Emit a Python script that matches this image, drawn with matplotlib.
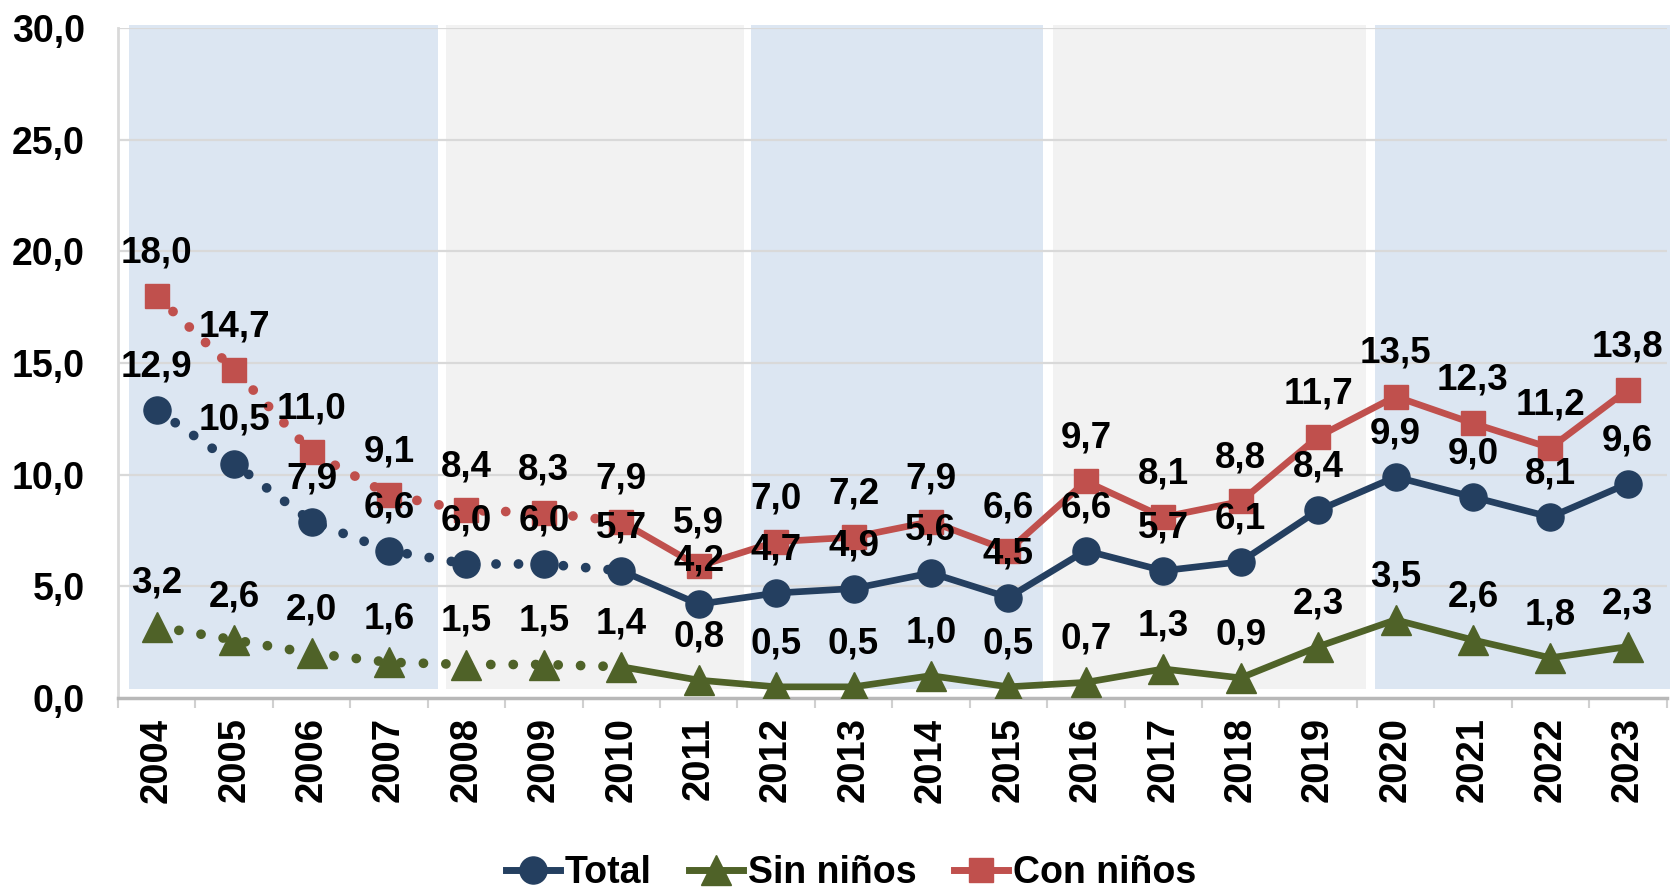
import matplotlib
matplotlib.use("Agg")
import matplotlib.pyplot as plt
from matplotlib.lines import Line2D
from matplotlib.ticker import FixedLocator

plt.rcParams['font.family'] = ['Liberation Sans', 'DejaVu Sans']
plt.rcParams['font.weight'] = 'bold'

years = [str(y) for y in range(2004, 2024)]
total = [12.9, 10.5, 7.9, 6.6, 6.0, 6.0, 5.7, 4.2, 4.7, 4.9, 5.6, 4.5, 6.6, 5.7, 6.1, 8.4, 9.9, 9.0, 8.1, 9.6]
sin_ninos = [3.2, 2.6, 2.0, 1.6, 1.5, 1.5, 1.4, 0.8, 0.5, 0.5, 1.0, 0.5, 0.7, 1.3, 0.9, 2.3, 3.5, 2.6, 1.8, 2.3]
con_ninos = [18.0, 14.7, 11.0, 9.1, 8.4, 8.3, 7.9, 5.9, 7.0, 7.2, 7.9, 6.6, 9.7, 8.1, 8.8, 11.7, 13.5, 12.3, 11.2, 13.8]
series_names = ["Total", "Sin niños", "Con niños"]
yticks = [0, 5, 10, 15, 20, 25, 30]
dotted_until = 6  # index of 2010: dotted before, solid after

colors = ["#243F60", "#4F6228", "#C0504D"]
markers = ["o", "^", "s"]
msizes = [19.5, 22, 17.5]

fig = plt.figure(figsize=(16.75, 8.94), dpi=100)
ax = fig.add_axes([118 / 1675, (894 - 698) / 894, (1666.5 - 118) / 1675, 670 / 894])

n = len(years)
x = list(range(n))
ax.set_xlim(-0.5, n - 0.5)
ax.set_ylim(0, 30)

# background bands
bands = [(-0.36, 3.63, "#DCE6F2"), (3.74, 7.58, "#F2F2F2"), (7.68, 11.45, "#DCE6F2"),
         (11.57, 15.62, "#F2F2F2"), (15.73, 19.55, "#DCE6F2")]
for a, b, c in bands:
    ax.axvspan(a, b, ymin=0.013, ymax=1.0045, color=c, zorder=0, clip_on=False, lw=0)

for yv in yticks[1:]:
    ax.axhline(yv, color="#D9D9D9", lw=1.6, zorder=1)

for vals, col, mk, ms in zip([total, sin_ninos, con_ninos], colors, markers, msizes):
    ax.plot(x[:dotted_until + 1], vals[:dotted_until + 1], color=col, lw=7,
            linestyle=(0, (0.01, 2.3)), dash_capstyle='round', zorder=3)
    ax.plot(x[dotted_until:], vals[dotted_until:], color=col, lw=4.8,
            solid_joinstyle='round', zorder=3)
    ax.plot(x, vals, linestyle='none', marker=mk, markersize=ms, color=col, zorder=4)
    for xi, v in zip(x, vals):
        ax.annotate(f"{v:.1f}".replace(".", ","), (xi, v), xytext=(0, 31),
                    textcoords="offset points", ha="center", va="center",
                    fontsize=26.5, fontweight="bold", color="black", zorder=6)

ax.set_yticks(yticks)
ax.set_yticklabels([f"{v:.1f}".replace(".", ",") for v in yticks], fontsize=27, fontweight="bold")
ax.tick_params(axis="y", length=0, pad=24)
ax.set_xticks(x)
ax.set_xticklabels(years, rotation=90, fontsize=27.5, fontweight="bold")
ax.tick_params(axis="x", which="major", length=0, pad=14)
ax.xaxis.set_minor_locator(FixedLocator([i - 0.5 for i in range(n + 1)]))
ax.tick_params(axis="x", which="minor", length=7, width=1.5, color="#D0D0D0")

for s in ["top", "right"]:
    ax.spines[s].set_visible(False)
ax.spines["bottom"].set_color("#B8B8B8")
ax.spines["bottom"].set_linewidth(2.5)
ax.spines["left"].set_color("#D9D9D9")
ax.spines["left"].set_linewidth(2)
ax.set_facecolor("white")

handles = [Line2D([0], [0], color=c, lw=5, marker=m, markersize=ms)
           for c, m, ms in zip(colors, markers, msizes)]
fig.legend(handles, series_names, loc="center", bbox_to_anchor=(0.508, 21 / 894), ncol=3,
           frameon=False, prop={"size": 27, "weight": "bold"}, handlelength=1.45,
           handletextpad=0.12, columnspacing=1.0, borderaxespad=0)

fig.savefig("out.png", dpi=100)
